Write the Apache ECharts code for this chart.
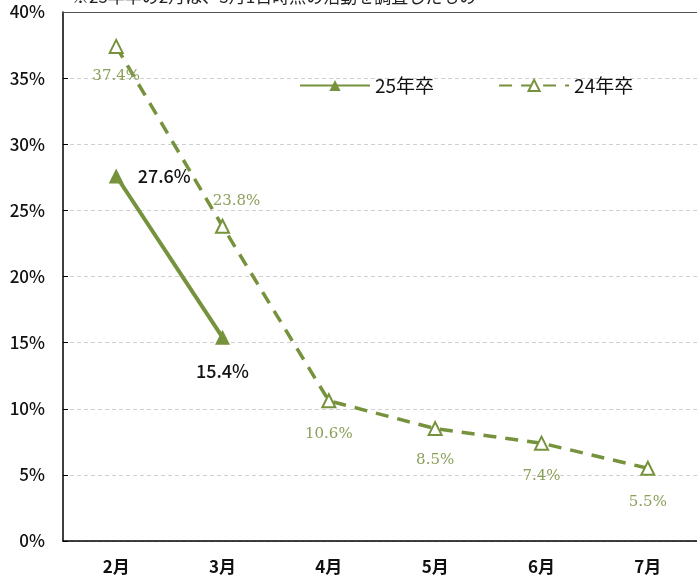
<!DOCTYPE html>
<html>
<head>
<meta charset="utf-8">
<script src="https://cdn.jsdelivr.net/npm/echarts@6/dist/echarts.min.js"></script>
<style>
  html, body { margin: 0; padding: 0; background: #fff; overflow: hidden; }
  #chart { width: 701px; height: 582px; }
</style>
</head>
<body>
<div id="chart"></div>
<script>
// 月ラベル
var months = ['2月', '3月', '4月', '5月', '6月', '7月'];
// 25年卒 (3月まで)
var y25 = [27.6, 15.4, null, null, null, null];
// 24年卒
var y24 = [37.4, 23.8, 10.6, 8.5, 7.4, 5.5];
var yTicks = [0, 5, 10, 15, 20, 25, 30, 35, 40];
var note = '※25年卒の2月は、3月1日時点の活動を調査したもの';

var green = '#76923c';
var labelGreen = '#8aa05a';
var jp = '"Noto Sans CJK JP", "Noto Sans", sans-serif';

var chart = echarts.init(document.getElementById('chart'));

var option = {
    backgroundColor: '#fff',
    animation: false,
    grid: { left: 63, right: 0, top: 12, bottom: 41 },
    graphic: [{
        type: 'text',
        left: 72,
        top: -12,
        style: { text: note, font: '17px ' + jp, fill: '#222' }
    }],
    legend: {
        top: 71,
        left: 294,
        itemWidth: 70,
        itemHeight: 14,
        itemGap: 64,
        textStyle: { fontFamily: jp, fontSize: 19, color: '#111' },
        data: ['25年卒', '24年卒']
    },
    xAxis: {
        type: 'category',
        data: months,
        boundaryGap: true,
        axisLine: { lineStyle: { color: '#000', width: 1.5 } },
        axisTick: { inside: true, length: 7, lineStyle: { color: '#000' } },
        axisLabel: { margin: 17, fontFamily: jp, fontSize: 17, fontWeight: 'bold', color: '#111' }
    },
    yAxis: {
        type: 'value',
        min: 0,
        max: 40,
        interval: 5,
        axisLine: { show: true, lineStyle: { color: '#000', width: 1.5 } },
        axisTick: { show: true, inside: true, length: 5, lineStyle: { color: '#000' } },
        axisLabel: {
            margin: 18,
            fontFamily: jp,
            fontSize: 17,
            fontWeight: 500,
            color: '#111',
            formatter: function (v) { return yTicks.indexOf(v) >= 0 ? v + '%' : ''; }
        },
        splitLine: { show: true, lineStyle: { color: '#d0d0d0', type: [4, 3] } }
    },
    series: [{
        name: '25年卒',
        type: 'line',
        data: y25,
        symbol: 'triangle',
        symbolSize: 15,
        lineStyle: { color: green, width: 4 },
        itemStyle: { color: green },
        z: 3,
        label: {
            show: true,
            formatter: function (p) { return p.value.toFixed(1) + '%'; },
            fontFamily: jp,
            fontSize: 18,
            fontWeight: 500,
            color: '#111'
        },
        labelLayout: function (p) {
            if (p.dataIndex === 0) return { dx: 48, dy: 22 };
            return { dx: 0, dy: 55 };
        },
        // 上端の枠線
        markLine: {
            silent: true,
            symbol: 'none',
            label: { show: false },
            lineStyle: { color: '#555', width: 1, type: 'solid' },
            data: [{ yAxis: 40 }]
        }
    }, {
        name: '24年卒',
        type: 'line',
        data: y24,
        symbol: 'triangle',
        symbolSize: 13,
        lineStyle: { color: green, width: 3.5, type: [13, 9] },
        itemStyle: { color: '#fff', borderColor: green, borderWidth: 2 },
        label: {
            show: true,
            formatter: function (p) { return p.value.toFixed(1) + '%'; },
            fontFamily: '"DejaVu Serif", "Liberation Serif", serif',
            fontSize: 15,
            color: labelGreen
        },
        labelLayout: function (p) {
            var d = [[0, 50], [14, -5], [0, 53], [0, 52], [0, 53], [0, 54]];
            return { dx: d[p.dataIndex][0], dy: d[p.dataIndex][1] };
        }
    }]
};

chart.setOption(option);
</script>
</body>
</html>
